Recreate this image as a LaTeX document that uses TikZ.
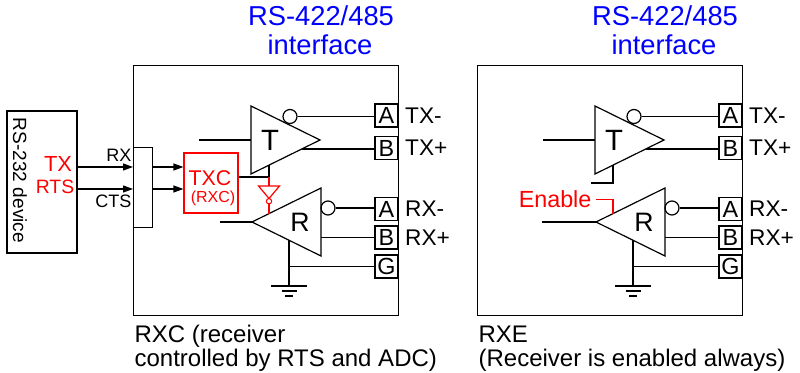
\documentclass[tikz,border=0pt]{standalone}
\usepackage{fontspec}
\setmainfont{Liberation Sans}
\usetikzlibrary{arrows.meta, positioning}
\newcommand{\fs}[1]{\fontsize{#1}{#1}\selectfont}

\begin{document}
\begin{tikzpicture}[x=0.75pt, y=-0.75pt, line width=0.9pt,
  hdr/.style={anchor=base, inner sep=0pt, text=blue, font=\fs{20.5}},
  term/.style={draw, minimum size=17.25pt, inner sep=0pt, font=\fs{17.5}},
  plbl/.style={inner sep=0pt, font=\fs{17}},
  note/.style={anchor=base west, inner sep=0pt, font=\fs{18}},
  bub/.style={draw, circle, minimum size=10.5pt, inner sep=0pt},
  sig/.style={-{Triangle[length=7.5pt, width=5.25pt]}}]
\useasboundingbox (0,0) rectangle (800,373);

\node[draw, anchor=north west, minimum width=198.75pt, minimum height=187.5pt, inner sep=0pt] (M1) at (133,65) {};
\node[hdr] (H1) at (321,26) {RS-422/485};
\node[hdr] (H1b) at (320,55) {interface};

\node[draw, minimum width=52.5pt, minimum height=106.5pt, inner sep=0pt] (D) at (42,182) {};
\node[rotate=-90, inner sep=0pt, font=\fs{14.3}] (DL) at (20,180.5) {RS-232 device};
\node[anchor=base, inner sep=0pt, text=red, font=\fs{16.4}] (TX) at (58,172) {TX};
\node[anchor=base, inner sep=0pt, text=red, font=\fs{14.5}] (RTS) at (55,194) {RTS};

\node[draw, anchor=north west, minimum width=14.25pt, minimum height=60pt, inner sep=0pt] (C) at (133,147) {};
\node[anchor=base east, inner sep=0pt, font=\fs{13.5}] (RX) at (132,162) {RX};
\node[anchor=base east, inner sep=0pt, font=\fs{13.5}] (CTS) at (132,208) {CTS};
\draw[sig] (D.east |- 0,167) -- (C.west |- 0,167);
\draw[sig] (D.east |- 0,189) -- (C.west |- 0,189);

\node[draw=red, minimum width=40.5pt, minimum height=45pt, inner sep=0pt] (X) at (211,183) {};
\node[anchor=base, inner sep=0pt, text=red, font=\fs{16}] (X1) at (210,186) {TXC};
\node[anchor=base, inner sep=0pt, text=red, font=\fs{12}] (X2) at (213,203) {(RXC)};
\draw[sig] (C.east |- 0,167) -- (X.west |- 0,167);
\draw[sig] (C.east |- 0,189) -- (X.west |- 0,189);

\coordinate (T1a) at (251,106);
\coordinate (T1b) at (251,174);
\coordinate (T1c) at (320,140);
\draw (T1a) -- (T1c) -- (T1b) -- cycle;
\node[font=\fs{22}] (T1) at (270,140) {T};
\node[bub] (TB1) at (290,116.5) {};
\coordinate (T1i) at (199,140);
\draw (T1i) -- (T1a |- T1i);

\node[term] (PA1) at (386.5,115.5) {A};
\node[term] (PB1) at (386.5,148) {B};
\node[term] (PA2) at (386.5,209) {A};
\node[term] (PB2) at (386.5,237.5) {B};
\node[term] (PG1) at (386.5,266.5) {G};
\node[plbl, right=4.5pt of PA1] (L1a) {TX-};
\node[plbl, right=4.5pt of PB1] (L1b) {TX+};
\node[plbl, right=4.5pt of PA2] (L1c) {RX-};
\node[plbl, right=4.5pt of PB2] (L1d) {RX+};

\draw (TB1.east) -- (TB1.east -| PA1.west);
\coordinate (T1o) at (301.7,149);
\draw (T1o) -- (T1o -| PB1.west);

\coordinate (R1a) at (252,222);
\coordinate (R1b) at (321,188);
\coordinate (R1c) at (321,256);
\draw (R1a) -- (R1b) -- (R1c) -- cycle;
\node[font=\fs{20}] (R1) at (300,222) {R};
\node[bub] (RB1) at (328,208) {};
\draw (RB1.east) -- (RB1.east -| PA2.west);
\draw (R1b |- PB2) -- (PB2.west);
\coordinate (R1i) at (220,222);
\draw (R1i) -- (R1a);
\coordinate (R1g) at (289,240.2);
\coordinate (G1) at (289,286);
\draw (R1g) -- (G1);
\draw (R1g |- PG1) -- (PG1.west);
\draw (G1) ++(-18,0) -- ++(36,0) (G1) ++(-7.5,5) -- ++(15,0) (G1) ++(-4,10) -- ++(8,0);

\coordinate (T1e) at (269,165.1);
\coordinate (J1) at (269,177);
\draw (T1e) -- (J1);
\draw (X.east |- J1) -- (J1);
\coordinate (I1a) at (258.5,186);
\coordinate (I1b) at (279.5,186);
\coordinate (I1c) at (269,198.5);
\draw[red] (J1) -- (I1a -| J1);
\draw[red] (I1a) -- (I1b) -- (I1c) -- cycle;
\node[draw=red, circle, minimum size=4pt, inner sep=0pt, line width=0.8pt] (IB1) at (269,201.2) {};
\coordinate (R1e) at (269,213.6);
\draw[red] (IB1.south) -- (R1e);

\node[note] (N1a) at (134,343) {RXC (receiver};
\node[note] (N1b) at (134,367) {controlled by RTS and ADC)};

\node[draw, anchor=north west, minimum width=198.75pt, minimum height=187.5pt, inner sep=0pt] (M2) at (477,65) {};
\node[hdr] (H2) at (665,26) {RS-422/485};
\node[hdr] (H2b) at (664,55) {interface};

\coordinate (T2a) at (595,106);
\coordinate (T2b) at (595,174);
\coordinate (T2c) at (664,140);
\draw (T2a) -- (T2c) -- (T2b) -- cycle;
\node[font=\fs{22}] (T2) at (614,140) {T};
\node[bub] (TB2) at (634,116.5) {};
\coordinate (T2i) at (543,140);
\draw (T2i) -- (T2a |- T2i);
\coordinate (T2e) at (613,165.1);
\coordinate (T2s) at (591,183);
\draw (T2e) |- (T2s);

\node[term] (PA3) at (730.5,115.5) {A};
\node[term] (PB3) at (730.5,148) {B};
\node[term] (PA4) at (730.5,209) {A};
\node[term] (PB4) at (730.5,237.5) {B};
\node[term] (PG2) at (730.5,266.5) {G};
\node[plbl, right=4.5pt of PA3] (L2a) {TX-};
\node[plbl, right=4.5pt of PB3] (L2b) {TX+};
\node[plbl, right=4.5pt of PA4] (L2c) {RX-};
\node[plbl, right=4.5pt of PB4] (L2d) {RX+};

\draw (TB2.east) -- (TB2.east -| PA3.west);
\coordinate (T2o) at (645.7,149);
\draw (T2o) -- (T2o -| PB3.west);

\coordinate (R2a) at (596,222);
\coordinate (R2b) at (665,188);
\coordinate (R2c) at (665,256);
\draw (R2a) -- (R2b) -- (R2c) -- cycle;
\node[font=\fs{20}] (R2) at (644,222) {R};
\node[bub] (RB2) at (672,208) {};
\draw (RB2.east) -- (RB2.east -| PA4.west);
\draw (R2b |- PB4) -- (PB4.west);
\coordinate (R2i) at (542,222);
\draw (R2i) -- (R2a);
\coordinate (R2g) at (633,240.2);
\coordinate (G2) at (633,286);
\draw (R2g) -- (G2);
\draw (R2g |- PG2) -- (PG2.west);
\draw (G2) ++(-18,0) -- ++(36,0) (G2) ++(-7.5,5) -- ++(15,0) (G2) ++(-4,10) -- ++(8,0);

\node[anchor=base east, inner sep=0pt, text=red, font=\fs{17.5}] (EN) at (592,208) {Enable};
\coordinate (R2e) at (613,213.6);
\draw[red] ([xshift=3pt]EN.east) -| (R2e);

\node[note] (N2a) at (478,343) {RXE};
\node[note] (N2b) at (478,367) {(Receiver is enabled always)};
\end{tikzpicture}
\end{document}
